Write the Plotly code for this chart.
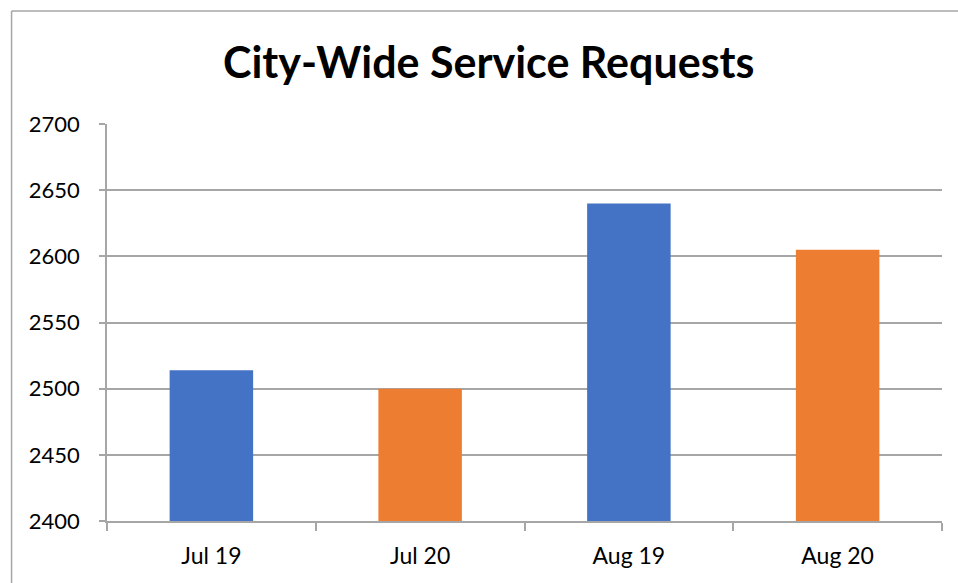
import plotly.graph_objects as go

categories = ["Jul 19", "Jul 20", "Aug 19", "Aug 20"]
values = [2514, 2500, 2640, 2605]
bar_colors = ["#4472C4", "#ED7D31", "#4472C4", "#ED7D31"]
y_ticks = [2400, 2450, 2500, 2550, 2600, 2650, 2700]

W, H = 958, 583
L, R, T, B = 106.5, 16, 124, 62
pw = W - L - R
ph = H - T - B

fig = go.Figure(go.Bar(
    x=categories, y=values, marker=dict(color=bar_colors, line=dict(width=0)),
    width=0.4,
))

grid = "#A6A6A6"
bx0 = (11 - L) / pw
by1 = 1 + (T - 11) / ph
fig.update_layout(
    width=W, height=H,
    margin=dict(l=L, r=R, t=T, b=B, pad=0),
    paper_bgcolor="white", plot_bgcolor="white",
    showlegend=False,
    font=dict(family="Lato", color="black"),
    title=dict(text="<b>City-Wide Service Requests</b>", x=488.7 / W, xanchor="center",
               xref="container", yref="container", y=1 - 63 / H, yanchor="middle",
               font=dict(size=43, family="Lato", color="black")),
    xaxis=dict(showline=True, linecolor=grid, linewidth=1.5, ticks="outside",
               tickson="boundaries", ticklen=8, tickcolor=grid, tickwidth=1.5,
               tickfont=dict(size=23), ticklabelstandoff=14, showgrid=False),
    yaxis=dict(range=[2400, 2700], tickvals=y_ticks, showline=True, linecolor=grid,
               linewidth=1.5, showgrid=True, gridcolor=grid, gridwidth=1.5,
               ticks="outside", ticklen=6, tickcolor=grid, tickwidth=1.5,
               tickfont=dict(size=22), ticklabelstandoff=15, zeroline=False),
    shapes=[
        dict(type="line", xref="paper", yref="paper", x0=bx0, x1=bx0,
             y0=-(B + 30) / ph, y1=by1, line=dict(color=grid, width=1.5), layer="below"),
        dict(type="line", xref="paper", yref="paper", x0=bx0, x1=(W + 30 - L) / pw,
             y0=by1, y1=by1, line=dict(color=grid, width=1.5), layer="below"),
    ],
)

fig.write_html(
    "out.html",
    config={"displayModeBar": False},
    post_script=(
        "document.body.style.margin='0';"
        "document.body.style.overflow='hidden';"
        "document.documentElement.style.overflow='hidden';"
    ),
)
